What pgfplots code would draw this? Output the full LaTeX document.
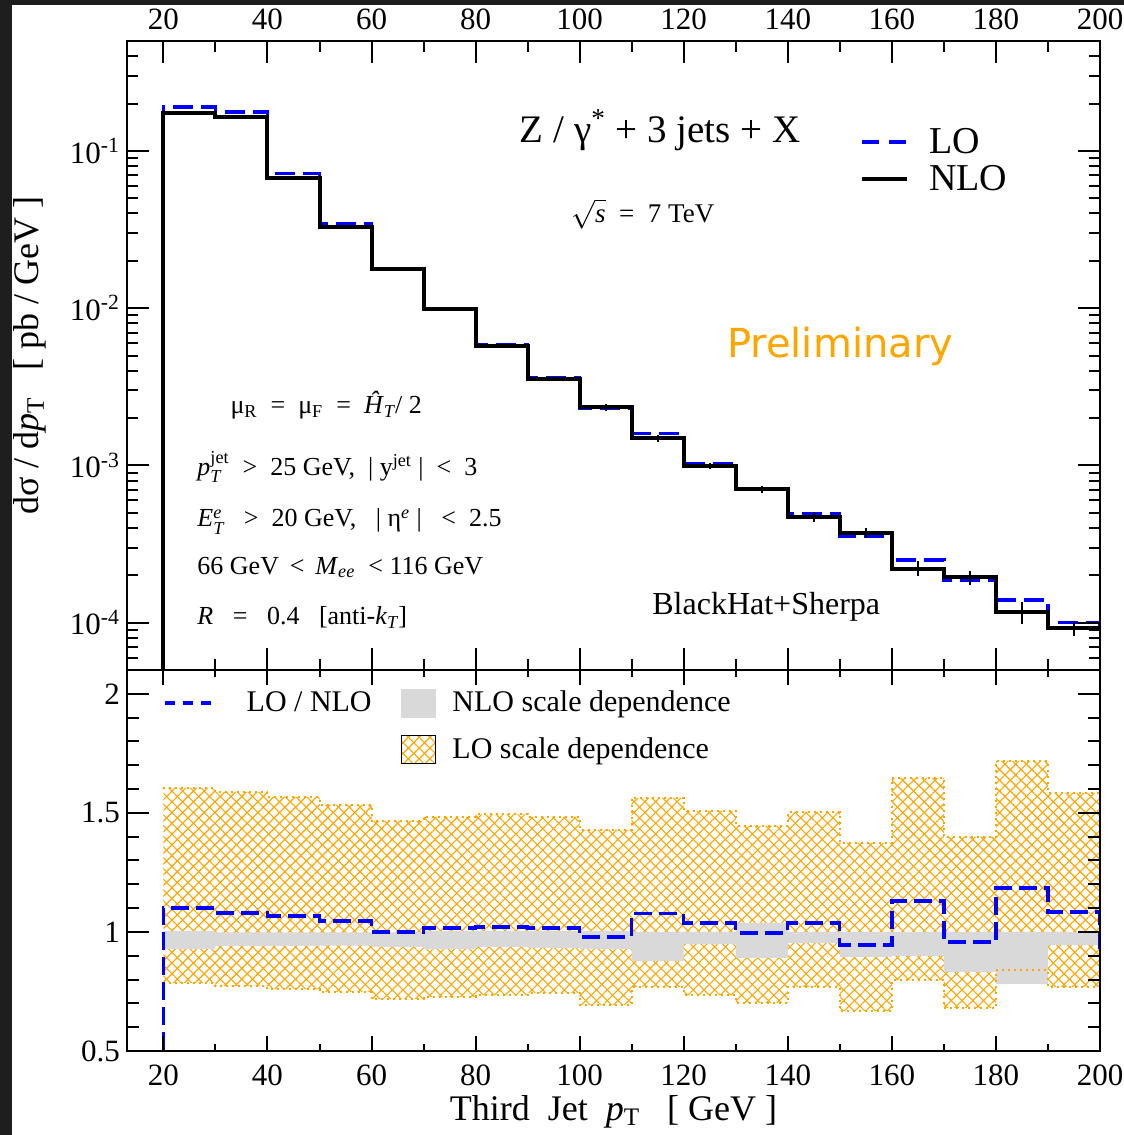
\documentclass[border=0pt]{standalone}
\usepackage{amsmath}
\usepackage{fontspec}
\setmainfont{Liberation Serif}
\newfontfamily\prelimfont{DejaVu Sans}
\usepackage{pgfplots}
\usepackage{pgfplotstable}
\pgfplotsset{compat=1.18}
\usepgfplotslibrary{fillbetween}
\usetikzlibrary{patterns.meta}

\definecolor{loblue}{HTML}{0000FF}
\definecolor{loorange}{HTML}{FFA500}
\definecolor{nlogray}{HTML}{D9D9D9}
\definecolor{bgdark}{HTML}{1E1E1E}
\newcommand\fs[1]{\fontsize{#1}{#1}\selectfont}

\tikzset{lohatch/.style={
  pattern={Lines[angle=45,distance=3.8pt,line width=0.55pt]}, pattern color=loorange,
  postaction={pattern={Lines[angle=-45,distance=3.8pt,line width=0.55pt]}, pattern color=loorange}}}

% x = left bin edge; first row starts the step from below the axis
\pgfplotstableread{
x    nlo        lo         err
20   1e-6       1e-6       0
20   0.1746     0.190      0.010
30   0.165      0.177      0.010
40   0.0672     0.0716     0.010
50   0.0328     0.0343     0.012
60   0.0177     0.0177     0.015
70   0.00986    0.0100     0.020
80   0.00573    0.00585    0.030
90   0.00353    0.00359    0.030
100  0.00234    0.00229    0.045
110  0.00149    0.00160    0.050
120  0.000987   0.001025   0.045
130  0.000703   0.000700   0.045
140  0.000473   0.000491   0.070
150  0.000374   0.000353   0.075
160  0.000221   0.000250   0.110
170  0.000194   0.000186   0.105
180  0.0001175  0.0001392  0.160
190  0.0000929  0.0001007  0.110
200  0.0000929  0.0000850  0
}\spectrum

\pgfplotstableread{
x    ratio  nloup  nlodn  loup   lodn
20   0.40   1.003  0.929  1.605  0.786
20   1.101  1.003  0.929  1.605  0.786
30   1.080  0.998  0.941  1.588  0.773
40   1.067  0.998  0.941  1.567  0.760
50   1.046  0.998  0.943  1.534  0.748
60   1.000  0.998  0.937  1.466  0.718
70   1.017  1.003  0.929  1.483  0.727
80   1.021  1.003  0.937  1.494  0.735
90   1.017  1.003  0.933  1.483  0.744
100  0.979  1.003  0.929  1.429  0.693
110  1.076  1.000  0.878  1.563  0.769
120  1.038  1.000  0.950  1.508  0.735
130  0.996  1.038  0.891  1.445  0.702
140  1.038  1.000  0.954  1.504  0.769
150  0.945  1.000  0.895  1.374  0.668
160  1.130  1.000  0.899  1.647  0.798
170  0.958  1.000  0.832  1.399  0.681
180  1.185  1.000  0.782  1.718  0.840
190  1.084  1.000  0.945  1.584  0.769
200  0.930  1.000  0.945  1.584  0.769
}\ratios

\pgfplotsset{
  panel/.style={
    scale only axis, width=486.5pt,
    xmin=13, xmax=200,
    xtick={20,40,...,200}, minor xtick={30,50,...,190},
    axis line style={line width=1.4pt},
    tick style={black, line width=1pt},
    tick align=inside,
    tick label style={font=\fs{15.5pt}},
    /pgf/number format/assume math mode=true,
    axis on top,
  },
}

\begin{document}
\begin{tikzpicture}
% dark screen edge on the left and at the top
\fill[bgdark] (-63.5pt,-42pt) rectangle (-57.5pt,525.5pt);
\fill[bgdark] (-63.5pt,523pt) rectangle (498.5pt,525.5pt);

% ratio panel
\begin{axis}[panel,
  at={(0pt,0pt)}, anchor=south west, height=190.5pt,
  ymin=0.5, ymax=2.1,
  ytick={0.5,1,1.5,2}, yticklabels={0.5,1,1.5,2},
  minor ytick={0.6,0.7,0.8,0.9,1.1,1.2,1.3,1.4,1.6,1.7,1.8,1.9},
  major tick length=11pt, minor tick length=6pt,
  xtick style={/pgfplots/major tick length=7.5pt, /pgfplots/minor tick length=3.5pt},
  xticklabel style={yshift=-3.5pt},
  xlabel={Third\ \ Jet\ \ \textit{p}$_{\text{T}}$\ \ \ [ GeV ]},
  every axis x label/.style={at={(axis description cs:0.5,-0.16)}, anchor=center, font=\fs{18pt}},
  legend columns=2, legend cell align=left,
  legend style={at={(0.037,0.852)}, anchor=west, draw=none, fill=none,
    inner sep=0pt, font=\fs{15pt}, row sep=9pt,
    nodes={inner sep=0pt},
    /tikz/column 1/.style={column sep=16.5pt},
    /tikz/column 2/.style={column sep=14.5pt},
    /tikz/column 3/.style={column sep=8.5pt}},
]
\addplot[name path=loup, draw=none, const plot mark left, forget plot,
  skip coords between index={0}{1}] table[x=x, y=loup] {\ratios};
\addplot[name path=lodn, draw=none, const plot mark left, forget plot,
  skip coords between index={0}{1}] table[x=x, y=lodn] {\ratios};
\addplot[lohatch, forget plot] fill between[of=loup and lodn];
\addplot[name path=nloup, draw=none, const plot mark left, forget plot,
  skip coords between index={0}{1}] table[x=x, y=nloup] {\ratios};
\addplot[name path=nlodn, draw=none, const plot mark left, forget plot,
  skip coords between index={0}{1}] table[x=x, y=nlodn] {\ratios};
\addplot[fill=nlogray, draw=none, forget plot] fill between[of=nloup and nlodn];
\addplot[loorange, dotted, line width=1pt, const plot mark left, forget plot,
  skip coords between index={0}{1}] table[x=x, y=loup] {\ratios};
\addplot[loorange, dotted, line width=1pt, const plot mark left, forget plot,
  skip coords between index={0}{1}] table[x=x, y=lodn] {\ratios};
\addplot[loblue, line width=1.65pt, dash pattern=on 9pt off 3.5pt,
  const plot mark left, forget plot] table[x=x, y=ratio] {\ratios};

\addlegendimage{legend image code/.code={\draw[loblue, line width=1.65pt, dash pattern=on 5pt off 4pt] (0pt,0pt) -- (23.5pt,0pt);}}
\addlegendentry{LO / NLO}
\addlegendimage{legend image code/.code={\fill[nlogray] (0pt,-7pt) rectangle (17pt,7pt);}}
\addlegendentry{NLO scale dependence}
\addlegendimage{empty legend}
\addlegendentry{}
\addlegendimage{legend image code/.code={\fill[lohatch] (0pt,-7pt) rectangle (17pt,7pt);}}
\addlegendentry{LO scale dependence}
\end{axis}

% spectrum panel
\begin{axis}[panel,
  at={(0pt,190.5pt)}, anchor=south west, height=314.5pt,
  ymode=log, ymin=5e-5, ymax=0.5,
  xticklabel pos=upper,
  xticklabel style={yshift=2pt},
  ytick={1e-4,1e-3,1e-2,1e-1},
  yticklabels={10\textsuperscript{-4},10\textsuperscript{-3},10\textsuperscript{-2},10\textsuperscript{-1}},
  minor ytick={6e-5,7e-5,8e-5,9e-5,2e-4,3e-4,4e-4,5e-4,6e-4,7e-4,8e-4,9e-4,
    2e-3,3e-3,4e-3,5e-3,6e-3,7e-3,8e-3,9e-3,2e-2,3e-2,4e-2,5e-2,6e-2,7e-2,8e-2,9e-2,
    0.2,0.3,0.4},
  major tick length=11pt, minor tick length=5.5pt,
  ylabel={dσ / d\textit{p}$_{\text{T}}$\ \ \ [ pb / GeV ]},
  every axis y label/.style={at={(axis description cs:-0.0997,0.5)}, rotate=90, anchor=center, font=\fs{18pt}},
  legend cell align=left,
  legend style={at={(0.753,0.810)}, anchor=west, draw=none, fill=none,
    inner sep=0pt, font=\fs{19pt}, row sep=4.5pt,
    nodes={inner sep=0pt},
    /tikz/column 1/.style={column sep=10pt}},
]
\addplot[loblue, line width=1.65pt, dash pattern=on 10pt off 4pt,
  const plot mark left, forget plot] table[x=x, y=lo] {\spectrum};
\addplot[black, line width=2pt, const plot mark left, forget plot]
  table[x=x, y=nlo] {\spectrum};
\addplot[draw=none, mark=none, forget plot,
  skip coords between index={0}{1}, restrict x to domain=20:199,
  error bars/.cd, y dir=both, y explicit relative, error mark=none,
  error bar style={draw=black, solid, line width=1pt}]
  table[x expr=\thisrow{x}+5, y=nlo, y error=err] {\spectrum};

\addlegendimage{legend image code/.code={\draw[loblue, line width=1.65pt, dash pattern=on 8.5pt off 5pt] (0pt,0pt) -- (22.5pt,0pt);}}
\addlegendentry{LO}
\addlegendimage{legend image code/.code={\draw[black, line width=2pt] (0pt,0pt) -- (22.5pt,0pt);}}
\addlegendentry{NLO}

\node[font=\fs{19.5pt}] at (rel axis cs:0.548,0.858) {Z / γ$^{\text{*}}$ + 3 jets + X};
\node[font=\fs{13.5pt}] at (rel axis cs:0.530,0.725) {$\sqrt{\textit{s}}$\ \ =\ \ 7 TeV};
\node[font=\prelimfont\fs{20pt}, text=loorange] at (rel axis cs:0.733,0.514) {Preliminary};
\node[font=\fs{13pt}, anchor=west, inner sep=0pt] at (rel axis cs:0.106,0.421)
  {μ$_{\text{R}}$\ \ =\ \ μ$_{\text{F}}$\ \ =\ \ \textit{Ĥ}$_{\textit{T}}$/ 2};
\node[font=\fs{13pt}, anchor=west, inner sep=0pt] at (rel axis cs:0.072,0.323)
  {\textit{p}$^{\text{jet}}_{\textit{T}}$\ \ >\ \ 25 GeV,\ \ | y$^{\text{jet}}$ |\ \ <\ \ 3};
\node[font=\fs{13pt}, anchor=west, inner sep=0pt] at (rel axis cs:0.072,0.236)
  {\textit{E}$^{\textit{e}}_{\textit{T}}$\ \ \ >\ \ 20 GeV,\ \ \ | η$^{\textit{e}}$ |\ \ \ <\ \ 2.5};
\node[font=\fs{13pt}, anchor=west, inner sep=0pt] at (rel axis cs:0.072,0.163)
  {66 GeV\ \,<\ \,\textit{M}$_{\textit{ee}}$\ \ < 116 GeV};
\node[font=\fs{13pt}, anchor=west, inner sep=0pt] at (rel axis cs:0.072,0.084)
  {\textit{R}\ \ \ =\ \ \ 0.4\ \ \ [anti-\textit{k}$_{\textit{T}}$]};
\node[font=\fs{16pt}] at (rel axis cs:0.657,0.100) {BlackHat+Sherpa};
\end{axis}

\pgfresetboundingbox
\path (-63.5pt,-42pt) rectangle (498.5pt,525.5pt);
\end{tikzpicture}
\end{document}
